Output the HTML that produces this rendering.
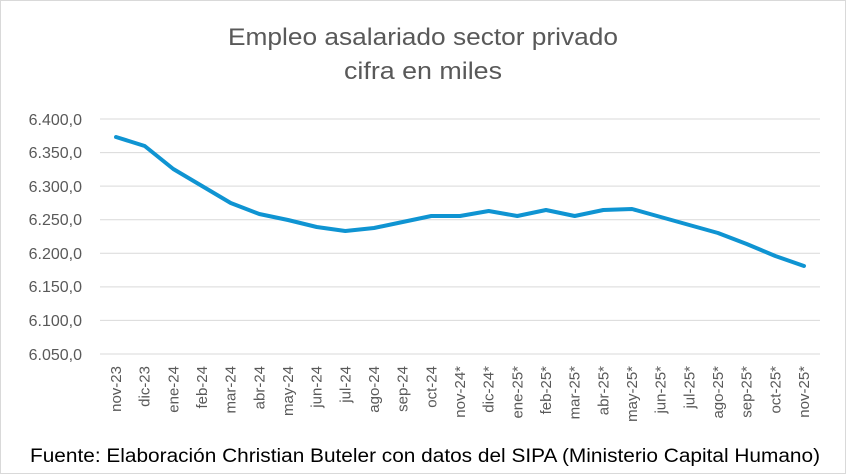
<!DOCTYPE html>
<html><head><meta charset="utf-8"><style>
body{margin:0;background:#fff}
svg{display:block;font-family:"Liberation Sans",sans-serif}
</style></head><body>
<svg width="846" height="474" viewBox="0 0 846 474">
<rect x="0.5" y="0.5" width="845" height="473" fill="#fff" stroke="#d9d9d9"/>
<text x="423" y="45" text-anchor="middle" font-size="24" fill="#595959" textLength="390" lengthAdjust="spacingAndGlyphs">Empleo asalariado sector privado</text>
<text x="423" y="79" text-anchor="middle" font-size="24" fill="#595959" textLength="158" lengthAdjust="spacingAndGlyphs">cifra en miles</text>
<g stroke="#d9d9d9" stroke-width="1">
<line x1="100" x2="820" y1="119" y2="119"/><line x1="100" x2="820" y1="152.6" y2="152.6"/>
<line x1="100" x2="820" y1="186.1" y2="186.1"/><line x1="100" x2="820" y1="219.7" y2="219.7"/>
<line x1="100" x2="820" y1="253.3" y2="253.3"/><line x1="100" x2="820" y1="286.9" y2="286.9"/>
<line x1="100" x2="820" y1="320.4" y2="320.4"/><line x1="100" x2="820" y1="354" y2="354"/>
</g>
<g font-size="16" fill="#595959" text-anchor="end">
<text x="82" y="125">6.400,0</text><text x="82" y="158">6.350,0</text><text x="82" y="192">6.300,0</text>
<text x="82" y="225">6.250,0</text><text x="82" y="259">6.200,0</text><text x="82" y="292">6.150,0</text>
<text x="82" y="326">6.100,0</text><text x="82" y="360">6.050,0</text>
</g>
<polyline fill="none" stroke="#0f94d2" stroke-width="4" stroke-linejoin="round" stroke-linecap="round"
points="116,137 144.7,146 173.3,169 202,186 230.7,203 259.3,214 288,220 316.7,227 345.3,231 374,228 402.7,222 431.3,216 460,216 488.7,211 517.3,216 546,210 574.7,216 603.3,210 632,209 660.7,217 689.3,225 718,233 746.7,244 775.3,256 804,266"/>
<g font-size="15" fill="#595959" text-anchor="end">
<text transform="translate(121,366) rotate(-90)">nov-23</text>
<text transform="translate(149.7,366) rotate(-90)">dic-23</text>
<text transform="translate(178.3,366) rotate(-90)">ene-24</text>
<text transform="translate(207,366) rotate(-90)">feb-24</text>
<text transform="translate(235.7,366) rotate(-90)">mar-24</text>
<text transform="translate(264.3,366) rotate(-90)">abr-24</text>
<text transform="translate(293,366) rotate(-90)">may-24</text>
<text transform="translate(321.7,366) rotate(-90)">jun-24</text>
<text transform="translate(350.3,366) rotate(-90)">jul-24</text>
<text transform="translate(379,366) rotate(-90)">ago-24</text>
<text transform="translate(407.7,366) rotate(-90)">sep-24</text>
<text transform="translate(436.3,366) rotate(-90)">oct-24</text>
<text transform="translate(465,366) rotate(-90)">nov-24*</text>
<text transform="translate(493.7,366) rotate(-90)">dic-24*</text>
<text transform="translate(522.3,366) rotate(-90)">ene-25*</text>
<text transform="translate(551,366) rotate(-90)">feb-25*</text>
<text transform="translate(579.7,366) rotate(-90)">mar-25*</text>
<text transform="translate(608.3,366) rotate(-90)">abr-25*</text>
<text transform="translate(637,366) rotate(-90)">may-25*</text>
<text transform="translate(665.7,366) rotate(-90)">jun-25*</text>
<text transform="translate(694.3,366) rotate(-90)">jul-25*</text>
<text transform="translate(723,366) rotate(-90)">ago-25*</text>
<text transform="translate(751.7,366) rotate(-90)">sep-25*</text>
<text transform="translate(780.3,366) rotate(-90)">oct-25*</text>
<text transform="translate(809,366) rotate(-90)">nov-25*</text>
</g>
<text x="425" y="462" text-anchor="middle" font-size="19" fill="#000" textLength="790" lengthAdjust="spacingAndGlyphs">Fuente: Elaboración Christian Buteler con datos del SIPA (Ministerio Capital Humano)</text>
</svg>
</body></html>
